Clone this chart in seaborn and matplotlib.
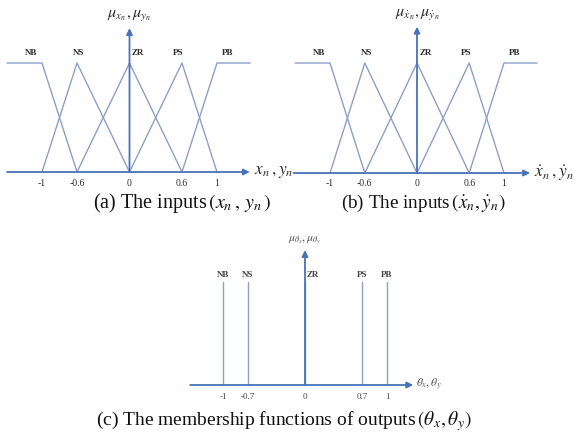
import matplotlib
matplotlib.use("Agg")
import matplotlib.pyplot as plt
import pandas as pd
import seaborn as sns

sns.set_theme(style="white")
plt.rcParams["font.family"] = ["Liberation Serif", "DejaVu Serif"]
plt.rcParams["mathtext.fontset"] = "stix"

# ---- input fuzzy sets (shared by x_n, y_n and their rates) ----
input_names = ["NB", "NS", "ZR", "PS", "PB"]
input_ticks = [-1, -0.6, 0, 0.6, 1]
input_tick_labels = ["-1", "-0.6", "0", "0.6", "1"]
nb_x, nb_mu = [-1.4, -1.0, -0.6], [1, 1, 0]
ns_x, ns_mu = [-1.0, -0.6, 0.0], [0, 1, 0]
zr_x, zr_mu = [-0.6, 0.0, 0.6], [0, 1, 0]
ps_x, ps_mu = [0.0, 0.6, 1.0], [0, 1, 0]
pb_x, pb_mu = [0.6, 1.0, 1.38], [0, 1, 1]

# ---- output singletons ----
output_names = ["NB", "NS", "ZR", "PS", "PB"]
output_values = [-1, -0.7, 0, 0.7, 1]
output_tick_labels = ["-1", "-0.7", "0", "0.7", "1"]
singleton_height = 1.0

LINE = "#8d9fc6"
AXIS = "#4673b8"
TEXT = "#2a2a2a"

W, H = 580, 437
fig = plt.figure(figsize=(W / 100, H / 100), dpi=100)
fig.patch.set_facecolor("white")


def panel(x0, y0, ux, uy, left, right, top, bottom):
    """Axes in a pixel box (top-left origin) with data origin at pixel (x0, y0)."""
    ax = fig.add_axes([left / W, 1 - bottom / H, (right - left) / W, (bottom - top) / H])
    ax.axis("off")
    lims = ((left - x0) / ux, (right - x0) / ux), ((y0 - bottom) / uy, (y0 - top) / uy)
    return ax, lims


def arrows(ax, x_start, x_tip, y_tip):
    style = dict(arrowstyle="-|>", color=AXIS, lw=1.3, mutation_scale=9,
                 shrinkA=0, shrinkB=0)
    ax.annotate("", xy=(x_tip, 0), xytext=(x_start, 0), arrowprops=style, zorder=5)
    ax.annotate("", xy=(0, y_tip), xytext=(0, 0), arrowprops=style, zorder=5)


def input_panel(x0, y0, ux, uy, left, right, xlabel, ylabel, x_start, x_tip, y_tip):
    ax, (xl, yl) = panel(x0, y0, ux, uy, left, right, 0, 190)
    frames = []
    for name, xs, mus in zip(input_names, [nb_x, ns_x, zr_x, ps_x, pb_x],
                             [nb_mu, ns_mu, zr_mu, ps_mu, pb_mu]):
        frames.append(pd.DataFrame({"x": xs, "mu": mus, "set": name}))
    df = pd.concat(frames, ignore_index=True)
    sns.lineplot(data=df, x="x", y="mu", units="set", estimator=None, sort=False,
                 color=LINE, lw=1.0, ax=ax, legend=False)
    ax.set_xlim(*xl)
    ax.set_ylim(*yl)
    ax.axis("off")
    arrows(ax, x_start, x_tip, y_tip)
    # set names above the membership peaks
    label_x = [nb_x[1] - 0.12, ns_x[1] + 0.02, zr_x[1] + 0.1, ps_x[1] - 0.04, pb_x[1] + 0.12]
    for name, lx in zip(input_names, label_x):
        ax.text(lx, 1.09, name, ha="center", va="center", fontsize=6.5,
                color=TEXT, fontweight="bold")
    for t, lab in zip(input_ticks, input_tick_labels):
        ax.annotate(lab, xy=(t, 0), xytext=(0, -11), textcoords="offset pixels",
                    ha="center", va="center", fontsize=7, color=TEXT)
    ax.annotate(xlabel, xy=(x_tip, 0), xytext=(4, 0), textcoords="offset pixels",
                ha="left", va="center", fontsize=12.5, color=TEXT)
    ax.annotate(ylabel, xy=(0, y_tip), xytext=(0, 13), textcoords="offset pixels",
                ha="center", va="center", fontsize=11.5, color=TEXT)
    return ax


input_panel(129.5, 172, 87.5, 109, 0, 290,
            r"$x_n\,,y_n$", r"$\mu_{x_n},\mu_{y_n}$", -1.4, 1.375, 1.32)
input_panel(417, 173, 87, 110, 290, 580,
            r"$\dot{x}_n\,,\dot{y}_n$", r"$\mu_{\dot{x}_n},\mu_{\dot{y}_n}$", -1.42, 1.30, 1.33)

# ---- output panel ----
ax, (xl, yl) = panel(305, 385, 82, 103, 150, 450, 230, 410)
rows = []
for name, v in zip(output_names, output_values):
    rows.append({"x": v, "mu": 0.0, "set": name})
    rows.append({"x": v, "mu": singleton_height, "set": name})
dfo = pd.DataFrame(rows)
sns.lineplot(data=dfo, x="x", y="mu", units="set", estimator=None, sort=False,
             color=LINE, lw=1.0, ax=ax, legend=False)
ax.set_xlim(*xl)
ax.set_ylim(*yl)
ax.axis("off")
arrows(ax, -1.4, 1.32, 1.31)
for name, v in zip(output_names, output_values):
    lx = v + 0.1 if v == 0 else v
    ax.text(lx, 1.07, name, ha="center", va="center", fontsize=6.5,
            color="#444444", fontweight="bold")
for t, lab in zip(output_values, output_tick_labels):
    ax.annotate(lab, xy=(t, 0), xytext=(0, -12), textcoords="offset pixels",
                ha="center", va="center", fontsize=6.5, color="#444444")
ax.annotate(r"$\theta_x,\theta_y$", xy=(1.32, 0), xytext=(3, 0), textcoords="offset pixels",
            ha="left", va="center", fontsize=8.5, color="#555555")
ax.annotate(r"$\mu_{\theta_x},\mu_{\theta_y}$", xy=(0, 1.31), xytext=(0, 9),
            textcoords="offset pixels", ha="center", va="center", fontsize=8.5,
            color="#555555")

# ---- captions ----
cap = dict(ha="center", va="center", color="#111111")
fig.text(182 / W, 1 - 203 / H, r"(a) The inputs$\,(x_n\,,\,y_n\,)$", fontsize=14.5, **cap)
fig.text(423 / W, 1 - 203 / H, r"(b) The inputs$\,(\dot{x}_n,\dot{y}_n)$", fontsize=13.8, **cap)
fig.text(284 / W, 1 - 421 / H,
         r"(c) The membership functions of outputs$\,(\theta_x,\theta_y)$", fontsize=14, **cap)

fig.savefig("out.png", dpi=100, facecolor="white")
